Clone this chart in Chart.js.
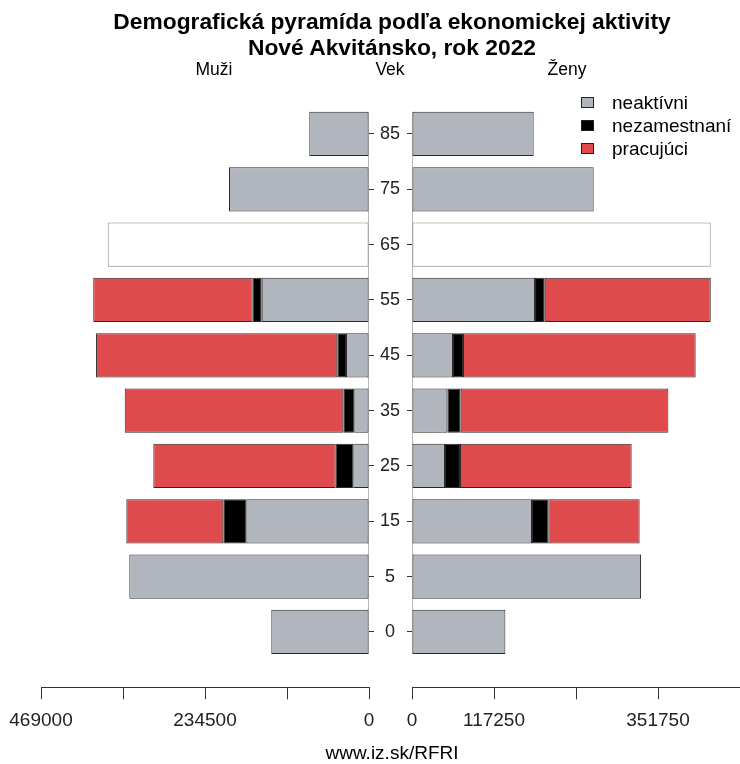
<!DOCTYPE html>
<html><head><meta charset="utf-8">
<script src="https://cdn.jsdelivr.net/npm/chart.js@4"></script>
<style>
html,body{margin:0;padding:0;background:#fff;}
#wrap{position:relative;width:740px;height:764px;overflow:hidden;font-family:'Liberation Sans',Arial,sans-serif;color:#000;}
.t{position:absolute;white-space:nowrap;transform:translate(-50%,-50%);line-height:1;}
canvas{position:absolute;top:0;}
.lg{position:absolute;left:581px;font-size:19px;line-height:1;white-space:nowrap;}
.lg span.b{display:inline-block;width:11px;height:9px;border:1px solid #222;vertical-align:middle;margin-right:18px;position:relative;top:-1px;}
</style></head><body>
<div id="wrap">
<canvas id="cm" style="left:0px" width="410" height="764"></canvas>
<canvas id="cf" style="left:400px" width="340" height="764"></canvas>
<div class="t" style="left:392px;top:21px;font-weight:bold;font-size:22.8px">Demografická pyramída podľa ekonomickej aktivity</div>
<div class="t" style="left:392px;top:47px;font-weight:bold;font-size:22.8px">Nové Akvitánsko, rok 2022</div>
<div class="t" style="left:214px;top:70px;font-size:17.5px">Muži</div>
<div class="t" style="left:390px;top:70px;font-size:17.5px">Vek</div>
<div class="t" style="left:567px;top:70px;font-size:17.5px">Ženy</div>
<div class="lg" style="top:93px"><span class="b" style="background:#b1b6be"></span>neaktívni</div>
<div class="lg" style="top:116px"><span class="b" style="background:#000"></span>nezamestnaní</div>
<div class="lg" style="top:139px"><span class="b" style="background:#df4b4d"></span>pracujúci</div>
<div class="t" style="left:392px;top:752px;font-size:19px">www.iz.sk/RFRI</div>
</div>
<script>
// Age groups, bottom to top
const ageGroups = ['0','5','15','25','35','45','55','65','75','85'];

// Men (Muži)
const maleInactive   = [139700, 342700, 175400, 22400, 21000, 32900, 153400, null, 200200, 85400];
const maleUnemployed = [null, null, 32900, 25200, 15700, 12400, 12900, null, null, null];
const maleEmployed   = [null, null, 138700, 260800, 312600, 345000, 228000, null, null, null];
const maleUnsplit    = [null, null, null, null, null, null, null, 373600, null, null];

// Women (Ženy)
const femaleInactive   = [133500, 327500, 171600, 47200, 50600, 58600, 175900, null, 259800, 174000];
const femaleUnemployed = [null, null, 23300, 21400, 19000, 14300, 13900, null, null, null];
const femaleEmployed   = [null, null, 130600, 245500, 297000, 332700, 237400, null, null, null];
const femaleUnsplit    = [null, null, null, null, null, null, null, 427100, null, null];

// Value axis
const axisMax = 469000;
const tickValues = [0, 117250, 234500, 351750, 469000];
const maleTickLabels   = ['0', '', '234500', '', '469000'];
const femaleTickLabels = ['0', '117250', '', '351750', ''];

const seriesNames = ['neaktívni', 'nezamestnaní', 'pracujúci', ''];
const colGray = '#b1b6be', colBlack = '#000000', colRed = '#df4b4d';

function pts(arr){ return arr.map((v,i)=>({x:v, y:i})); }
function ds(label, arr, color, border){
  return {label, data: pts(arr), backgroundColor: color, borderColor: border || '#2a2a2a',
    borderWidth: 1, borderSkipped: false, barPercentage: 0.8, categoryPercentage: 1.0};
}

const centerLine = {
  id: 'centerLine',
  beforeDatasetsDraw(chart, args, opts){
    const ctx = chart.ctx, y = chart.scales.y, a = chart.chartArea;
    const x = opts.side === 'right' ? Math.round(a.right) - 0.5 : Math.round(a.left) + 0.5;
    ctx.save(); ctx.strokeStyle = '#b8b8b8'; ctx.lineWidth = 1;
    ctx.beginPath(); ctx.moveTo(x, y.getPixelForValue(ageGroups.length - 0.6)); ctx.lineTo(x, y.getPixelForValue(-0.4)); ctx.stroke();
    ctx.restore();
  }
};

const xFont = {family: "'Liberation Sans', Arial, sans-serif", size: 19};
const yFont = {family: "'Liberation Sans', Arial, sans-serif", size: 18};

function makeChart(id, sets, isMale){
  return new Chart(document.getElementById(id), {
    type: 'bar',
    data: {datasets: sets},
    plugins: [centerLine],
    options: {
      responsive: false, animation: false, indexAxis: 'y',
      layout: {padding: {left: isMale ? 41 : 0, right: 0, top: 106.3, bottom: 0}},
      plugins: {legend: {display: false}, tooltip: {enabled: false}, centerLine: {side: isMale ? 'right' : 'left'}},
      scales: {
        x: {
          type: 'linear', stacked: true, reverse: isMale, min: 0, max: axisMax,
          afterBuildTicks: s => { s.ticks = tickValues.map(v => ({value: v})); },
          afterFit: s => { s.height = 764 - 687.3; s.paddingLeft = 0; s.paddingRight = 0; },
          ticks: {autoSkip: false, maxRotation: 0, color: '#222', font: xFont, padding: 10,
            callback: (v, i) => (isMale ? maleTickLabels : femaleTickLabels)[i]},
          grid: {drawOnChartArea: false, drawTicks: true, tickLength: 12, color: '#333', lineWidth: 1},
          border: {display: true, color: '#333', width: 1}
        },
        y: {
          type: 'linear', stacked: true, min: -1, max: 9.5, offset: false,
          position: isMale ? 'right' : 'left',
          afterBuildTicks: s => { s.ticks = ageGroups.map((_, i) => ({value: i})); },
          afterFit: s => { s.width = isMale ? 41 : 12; s.paddingTop = 0; s.paddingBottom = 0; },
          ticks: {display: isMale, autoSkip: false, crossAlign: 'center', padding: 6, color: '#222', font: yFont,
            callback: v => ageGroups[v]},
          grid: {offset: false, drawOnChartArea: false, drawTicks: true, tickLength: 5, color: '#333', lineWidth: 1},
          border: {display: false}
        }
      }
    }
  });
}

makeChart('cm', [
  ds(seriesNames[0], maleInactive, colGray),
  ds(seriesNames[1], maleUnemployed, colBlack),
  ds(seriesNames[2], maleEmployed, colRed),
  ds(seriesNames[3], maleUnsplit, '#ffffff', '#888888')
], true);
makeChart('cf', [
  ds(seriesNames[0], femaleInactive, colGray),
  ds(seriesNames[1], femaleUnemployed, colBlack),
  ds(seriesNames[2], femaleEmployed, colRed),
  ds(seriesNames[3], femaleUnsplit, '#ffffff', '#888888')
], false);
</script>
</body></html>
